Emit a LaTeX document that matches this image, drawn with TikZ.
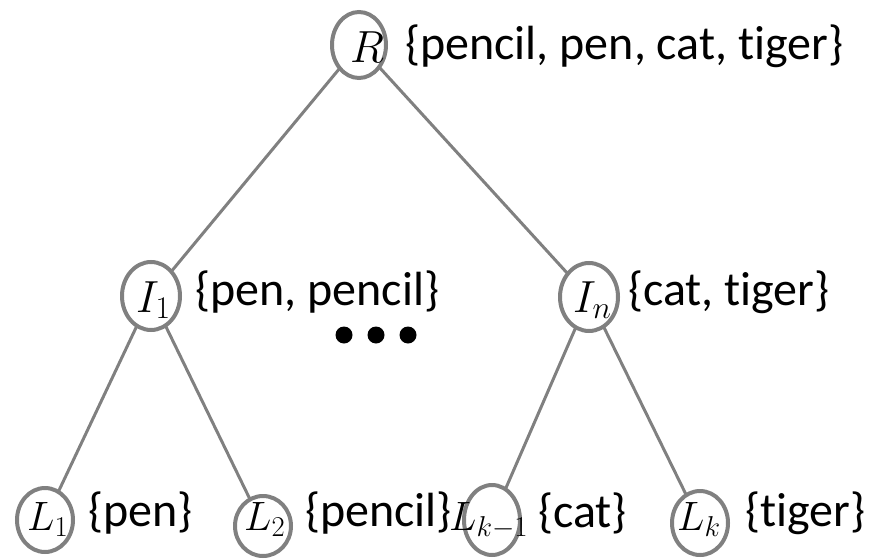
\RequirePackage{fix-cm}
\documentclass[tikz,border=0pt]{standalone}
\usepackage{fontspec}
\setmainfont{Carlito}[Ligatures={NoCommon}]
\usetikzlibrary{shapes.geometric}
\definecolor{edgegray}{RGB}{128,128,128}
\tikzset{
  ell/.style={ellipse, draw=edgegray, line width=4pt, inner sep=0pt, outer sep=0pt},
  conn/.style={draw=edgegray, line width=3pt},
  settext/.style={anchor=west, inner sep=0pt, font=\fontsize{48}{58}\selectfont},
  mathlbl/.style={anchor=base west, inner sep=0pt, font=\fontsize{45}{54}\selectfont},
  mathsmall/.style={anchor=base west, inner sep=0pt, font=\fontsize{41}{50}\selectfont},
  dotmark/.style={circle, fill=black, minimum size=17pt, inner sep=0pt}
}
\begin{document}
\begin{tikzpicture}[x=1pt,y=-1pt]
\useasboundingbox (0,0) rectangle (869,559);
% ellipses
\node[ell, minimum width=54pt, minimum height=66pt] (R) at (359,45) {};
\node[ell, minimum width=58pt, minimum height=68pt] (I1) at (151,296) {};
\node[ell, minimum width=58pt, minimum height=68pt] (In) at (589,297) {};
\node[ell, minimum width=56pt, minimum height=64pt] (L1) at (45,520) {};
\node[ell, minimum width=56pt, minimum height=60pt] (L2) at (263,526) {};
\node[ell, minimum width=56pt, minimum height=70pt] (Lk1) at (492,520) {};
\node[ell, minimum width=56pt, minimum height=64pt] (Lk) at (700,523) {};
% connectors
\draw[conn] (R) -- (I1);
\draw[conn] (R) -- (In);
\draw[conn] (I1) -- (L1);
\draw[conn] (I1) -- (L2);
\draw[conn] (In) -- (Lk1);
\draw[conn] (In) -- (Lk);
% math labels
\node[mathlbl] (tR) at (350,63) {$R$};
\node[mathlbl] (tI1) at (136,312) {$I_1$};
\node[mathlbl] (tIn) at (573,312) {$I_n$};
\node[mathsmall] (tL1) at (27,530) {$L_1$};
\node[mathsmall] (tL2) at (244,530) {$L_2$};
\node[mathsmall] (tLk1) at (449,530) {$L_{k-1}$};
\node[mathsmall] (tLk) at (677,530) {$L_k$};
% set labels
\node[settext] (sR) at (405,46) {\{pencil, pen, cat, tiger\}};
\node[settext] (sI1) at (195,292) {\{pen, pencil\}};
\node[settext] (sIn) at (628,292) {\{cat, tiger\}};
\node[settext] (sL1) at (88,513) {\{pen\}};
\node[settext] (sL2) at (305,513) {\{pencil\}};
\node[settext] (sLk1) at (538,513) {\{cat\}};
\node[settext] (sLk) at (745,513) {\{tiger\}};
% dots
\node[dotmark] (d1) at (344,335) {};
\node[dotmark] (d2) at (376,335) {};
\node[dotmark] (d3) at (408,335) {};
\end{tikzpicture}
\end{document}
